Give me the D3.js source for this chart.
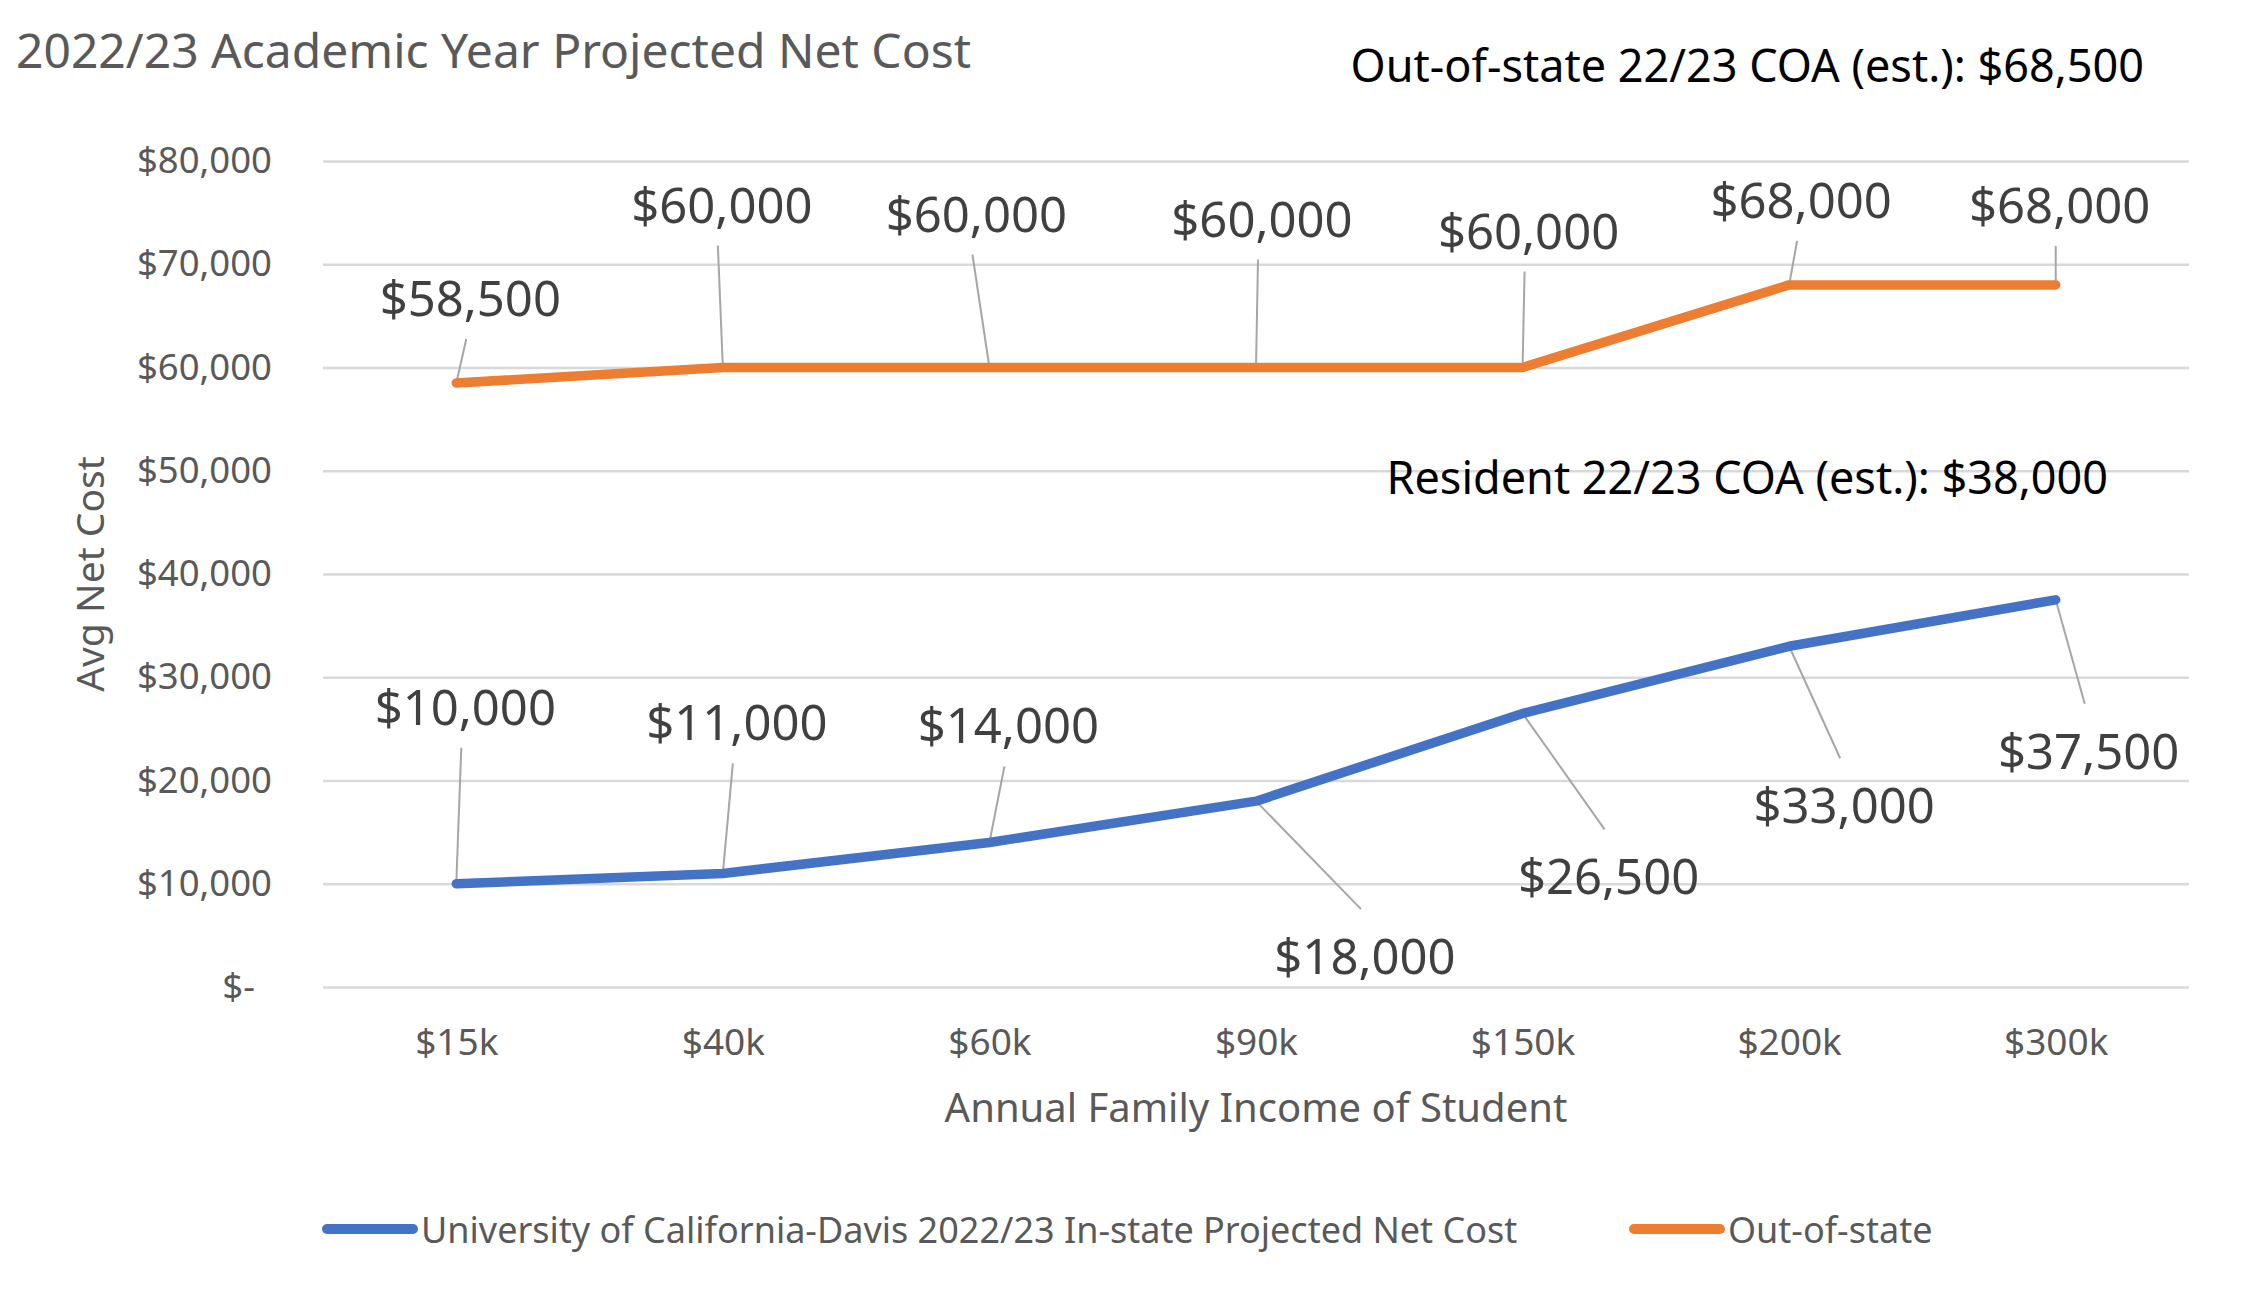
<!DOCTYPE html>
<html>
<head>
<meta charset="utf-8">
<script src="https://cdn.jsdelivr.net/npm/d3@7"></script>
<style>
  body { margin: 0; background: #fff; }
  svg { display: block; font-family: "Noto Sans", sans-serif; }
</style>
</head>
<body>
<div id="chart"></div>
<script>
'use strict'

// DATA
var incomes = ['$15k', '$40k', '$60k', '$90k', '$150k', '$200k', '$300k'];
var inStateCost = [10000, 11000, 14000, 18000, 26500, 33000, 37500];
var outStateCost = [58500, 60000, 60000, 60000, 60000, 68000, 68000];
var yTicks = [0, 10000, 20000, 30000, 40000, 50000, 60000, 70000, 80000];
var seriesNames = ['University of California-Davis 2022/23 In-state Projected Net Cost', 'Out-of-state'];
var coaNotes = ['Out-of-state 22/23 COA (est.): $68,500', 'Resident 22/23 COA (est.): $38,000'];

// label offsets from the point (px), like the hand placed excel labels
var outLabelOffsets = [[14, -86], [-1, -164], [-13, -155], [6, -150], [6, -138], [12, -86], [4, -81]];
var inLabelOffsets = [[9, -178], [14, -152], [19, -118], [109, 154], [86, 162], [55, 158], [33, 150]];

// DISPLAY SETTINGS
var WIDTH = 2245;
var HEIGHT = 1301;
var PLOT_LEFT = 323;
var PLOT_RIGHT = 2189;
var PLOT_TOP = 161;
var PLOT_BOTTOM = 987;
var BLUE = '#4472C4';
var ORANGE = '#ED7D31';
var GREY_TEXT = '#595959';

var svg = d3.select('#chart').append('svg').attr('width', WIDTH).attr('height', HEIGHT);
svg.append('rect').attr('width', WIDTH).attr('height', HEIGHT).attr('fill', '#fff');

var x = d3.scalePoint().domain(incomes).range([PLOT_LEFT, PLOT_RIGHT]).padding(0.5);
var y = d3.scaleLinear().domain([0, 80000]).range([PLOT_BOTTOM, PLOT_TOP]);

function money(v) {
  return v === 0 ? '$-' : '$' + d3.format(',')(v);
}

// GRID
var grid = svg.append('g')
  .attr('transform', 'translate(' + PLOT_LEFT + ',0)')
  .call(d3.axisLeft(y).tickValues(yTicks).tickSize(-(PLOT_RIGHT - PLOT_LEFT)).tickFormat(''));
grid.select('.domain').remove();
grid.selectAll('line').attr('stroke', '#d9d9d9').attr('stroke-width', 2.5);

// Y AXIS
var yAxis = svg.append('g')
  .attr('transform', 'translate(' + PLOT_LEFT + ',0)')
  .call(d3.axisLeft(y).tickValues(yTicks).tickSize(0).tickPadding(51).tickFormat(money));
yAxis.select('.domain').remove();
yAxis.selectAll('text')
  .attr('font-family', '"Noto Sans", sans-serif')
  .attr('font-size', '36.5px')
  .attr('fill', GREY_TEXT)
  // accounting format: the dash sits in from the right edge
  .attr('dx', function (d) { return d === 0 ? -17 : 0; });

// X AXIS
var xAxis = svg.append('g')
  .attr('transform', 'translate(0,' + PLOT_BOTTOM + ')')
  .call(d3.axisBottom(x).tickSize(0).tickPadding(42));
xAxis.select('.domain').remove();
xAxis.selectAll('text')
  .attr('font-family', '"Noto Sans", sans-serif')
  .attr('font-size', '37px')
  .attr('fill', GREY_TEXT);

// AXIS TITLES
svg.append('text')
  .text('Avg Net Cost')
  .attr('transform', 'translate(88,574) rotate(-90)')
  .attr('text-anchor', 'middle')
  .attr('dominant-baseline', 'central')
  .attr('font-size', '39px')
  .attr('fill', GREY_TEXT);

svg.append('text')
  .text('Annual Family Income of Student')
  .attr('x', (PLOT_LEFT + PLOT_RIGHT) / 2)
  .attr('y', 1122)
  .attr('text-anchor', 'middle')
  .attr('font-size', '40px')
  .attr('fill', GREY_TEXT);

// TITLE + COA NOTES
svg.append('text')
  .text('2022/23 Academic Year Projected Net Cost')
  .attr('x', 16)
  .attr('y', 68)
  .attr('font-size', '48px')
  .attr('fill', GREY_TEXT);

svg.append('text')
  .text(coaNotes[0])
  .attr('x', 2144)
  .attr('y', 82)
  .attr('text-anchor', 'end')
  .attr('font-size', '45px')
  .attr('fill', '#000');

svg.append('text')
  .text(coaNotes[1])
  .attr('x', 2108)
  .attr('y', 494)
  .attr('text-anchor', 'end')
  .attr('font-size', '45px')
  .attr('fill', '#000');

// LINES
var line = d3.line()
  .x(function (d, i) { return x(incomes[i]); })
  .y(function (d) { return y(d); });

function drawSeries(values, color, offsets) {
  // leader lines first so the line sits on top
  var g = svg.append('g');
  var pts = values.map(function (v, i) {
    var px = x(incomes[i]);
    var py = y(v);
    var lx = px + offsets[i][0];
    var ly = py + offsets[i][1];
    return { v: v, px: px, py: py, lx: lx, ly: ly };
  });

  g.selectAll('line.leader')
    .data(pts)
    .enter()
    .append('line')
    .attr('class', 'leader')
    .attr('x1', function (d) { return d.px; })
    .attr('y1', function (d) { return d.py; })
    .attr('x2', function (d) { return d.lx - 4; })
    .attr('y2', function (d) { return d.ly < d.py ? d.ly + 42 : d.ly - 46; })
    .attr('stroke', '#a6a6a6')
    .attr('stroke-width', 2);

  svg.append('path')
    .datum(values)
    .attr('d', line)
    .attr('fill', 'none')
    .attr('stroke', color)
    .attr('stroke-width', 9.5)
    .attr('stroke-linecap', 'round')
    .attr('stroke-linejoin', 'round');

  svg.append('g').selectAll('text')
    .data(pts)
    .enter()
    .append('text')
    .text(function (d) { return money(d.v); })
    .attr('x', function (d) { return d.lx; })
    .attr('y', function (d) { return d.ly; })
    .attr('text-anchor', 'middle')
    .attr('dominant-baseline', 'central')
    .attr('font-size', '49px')
    .attr('fill', '#404040');
}

drawSeries(outStateCost, ORANGE, outLabelOffsets);
drawSeries(inStateCost, BLUE, inLabelOffsets);

// LEGEND
var legendY = 1229;
var legend = [
  { name: seriesNames[0], color: BLUE, x: 327 },
  { name: seriesNames[1], color: ORANGE, x: 1634 }
];
legend.forEach(function (l) {
  svg.append('line')
    .attr('x1', l.x).attr('x2', l.x + 86)
    .attr('y1', legendY).attr('y2', legendY)
    .attr('stroke', l.color)
    .attr('stroke-width', 10)
    .attr('stroke-linecap', 'round');
  svg.append('text')
    .text(l.name)
    .attr('x', l.x + 94)
    .attr('y', legendY)
    .attr('dominant-baseline', 'central')
    .attr('font-size', '36px')
    .attr('fill', GREY_TEXT);
});
</script>
</body>
</html>
